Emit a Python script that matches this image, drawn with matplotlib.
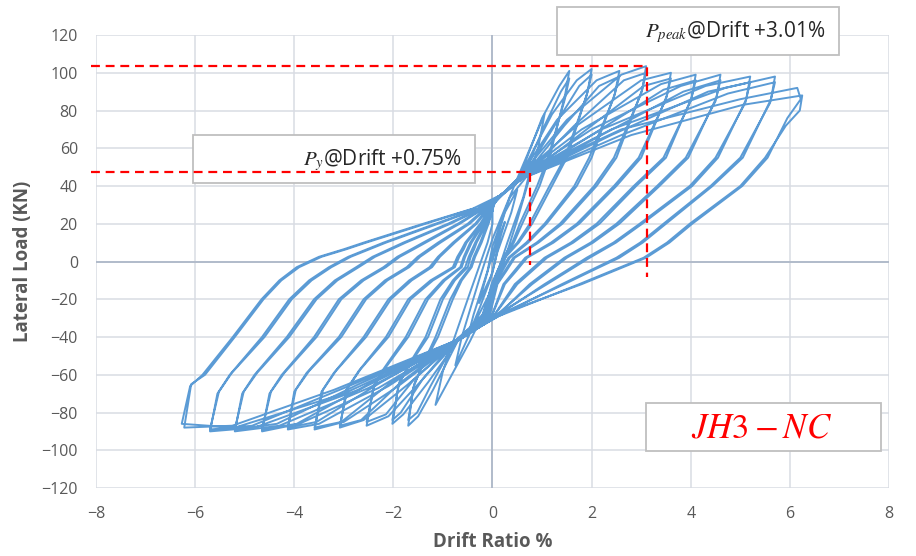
import numpy as np
import matplotlib.pyplot as plt
from matplotlib.patches import Rectangle

plt.rcParams['font.family'] = ['Open Sans', 'DejaVu Sans']
plt.rcParams['mathtext.fontset'] = 'stix'

# hysteresis record, one list per cycle (drift %, lateral load kN)
drift_loops = [
    [0.0, 0.12, 0.25, 0.15, 0.0, -0.14, -0.27, -0.17, 0.0],
    [0.0, 0.25, 0.5, 0.38, 0.1, -0.05, -0.25, -0.5, -0.38, -0.1, 0.0],
    [0.0, 0.35, 0.75, 0.62, 0.3, 0.0, -0.35, -0.75, -0.62, -0.25, 0.0],
    [0.0, 0.5, 1.05, 0.92, 0.5, 0.05, -0.45, -1.15, -1.0, -0.5, -0.1, 0.0],
    [0.0, 0.55, 1.0, 1.35, 1.55, 1.47, 1.15, 0.95, 0.6, 0.43, 0.25, 0.12, 0.0, -0.2, -0.7, -1.2, -1.5, -1.7, -1.6, -1.45, -1.15, -0.85, -0.65, -0.45, -0.38, -0.31, -0.25, -0.1, 0.0],
    [0.05, 0.6, 1.05, 1.38, 1.55, 1.46, 1.12, 0.9, 0.55, 0.4, 0.22, 0.1, 0.0, -0.2, -0.75, -1.25, -1.52, -1.7, -1.58, -1.42, -1.1, -0.8, -0.62, -0.42, -0.35, -0.28, -0.22, -0.08, 0.0],
    [0.0, 0.55, 1.2, 1.7, 2.0, 1.92, 1.5, 1.2, 0.8, 0.53, 0.25, 0.12, 0.0, -0.15, -0.7, -1.3, -1.8, -2.02, -1.9, -1.72, -1.35, -1.05, -0.8, -0.55, -0.48, -0.41, -0.35, -0.15, -0.02],
    [0.08, 0.6, 1.3, 1.75, 2.0, 1.9, 1.46, 1.15, 0.75, 0.5, 0.22, 0.1, -0.02, -0.18, -0.75, -1.4, -1.85, -2.02, -1.88, -1.68, -1.3, -1.0, -0.76, -0.5, -0.44, -0.37, -0.32, -0.12, 0.0],
    [0.0, 0.55, 1.3, 2.1, 2.56, 2.47, 2.0, 1.7, 1.09, 0.72, 0.35, 0.2, 0.05, -0.1, -0.7, -1.5, -2.1, -2.54, -2.4, -2.2, -1.75, -1.35, -1.0, -0.65, -0.58, -0.51, -0.45, -0.2, -0.05],
    [0.1, 0.6, 1.45, 2.15, 2.56, 2.45, 1.95, 1.65, 1.05, 0.68, 0.32, 0.17, 0.02, -0.12, -0.75, -1.6, -2.15, -2.54, -2.38, -2.15, -1.7, -1.3, -0.96, -0.62, -0.55, -0.48, -0.42, -0.18, -0.03],
    [0.05, 0.55, 1.5, 2.6, 3.1, 3.02, 2.5, 2.1, 1.41, 0.93, 0.45, 0.28, 0.1, -0.05, -0.7, -1.7, -2.6, -3.08, -2.95, -2.7, -2.15, -1.7, -1.25, -0.8, -0.71, -0.62, -0.55, -0.25, -0.08],
    [0.12, 0.6, 1.65, 2.65, 3.1, 3.0, 2.45, 2.05, 1.36, 0.89, 0.42, 0.25, 0.08, -0.08, -0.75, -1.85, -2.65, -3.08, -2.92, -2.66, -2.1, -1.65, -1.2, -0.76, -0.67, -0.58, -0.52, -0.22, -0.06],
    [0.1, 0.55, 1.7, 3.0, 3.6, 3.52, 3.0, 2.5, 1.75, 1.23, 0.7, 0.48, 0.25, 0.0, -0.7, -1.9, -3.0, -3.59, -3.45, -3.2, -2.6, -2.1, -1.68, -1.27, -1.1, -0.94, -0.8, -0.35, -0.1],
    [0.15, 0.6, 1.85, 3.05, 3.6, 3.5, 2.95, 2.45, 1.7, 1.18, 0.66, 0.44, 0.22, -0.02, -0.75, -2.05, -3.05, -3.59, -3.42, -3.16, -2.55, -2.05, -1.63, -1.22, -1.06, -0.9, -0.76, -0.32, -0.08],
    [0.1, 0.55, 1.8, 3.4, 4.1, 4.02, 3.5, 2.9, 2.16, 1.63, 1.1, 0.8, 0.5, 0.05, -0.7, -2.1, -3.5, -4.13, -4.0, -3.75, -3.1, -2.6, -2.17, -1.73, -1.51, -1.29, -1.1, -0.5, -0.15],
    [0.15, 0.6, 2.0, 3.45, 4.1, 4.0, 3.45, 2.85, 2.1, 1.58, 1.05, 0.75, 0.45, 0.02, -0.75, -2.25, -3.55, -4.13, -3.97, -3.7, -3.05, -2.55, -2.12, -1.68, -1.46, -1.24, -1.05, -0.46, -0.12],
    [0.1, 0.55, 2.0, 3.8, 4.6, 4.52, 3.95, 3.37, 2.56, 2.03, 1.5, 1.15, 0.8, 0.1, -0.7, -2.3, -3.9, -4.65, -4.5, -4.25, -3.6, -3.1, -2.65, -2.2, -1.92, -1.64, -1.4, -0.7, -0.2],
    [0.15, 0.6, 2.2, 3.85, 4.6, 4.5, 3.9, 3.32, 2.5, 1.98, 1.45, 1.1, 0.75, 0.08, -0.75, -2.5, -3.95, -4.65, -4.47, -4.2, -3.55, -3.05, -2.6, -2.15, -1.87, -1.59, -1.35, -0.66, -0.18],
    [0.1, 0.55, 2.2, 4.3, 5.2, 5.12, 4.55, 4.03, 3.02, 2.49, 1.96, 1.53, 1.1, 0.1, -0.7, -2.5, -4.3, -5.2, -5.05, -4.8, -4.15, -3.6, -3.18, -2.75, -2.42, -2.09, -1.8, -0.9, -0.25],
    [0.15, 0.6, 2.4, 4.35, 5.2, 5.1, 4.5, 3.98, 2.97, 2.44, 1.9, 1.48, 1.05, 0.08, -0.75, -2.7, -4.35, -5.2, -5.02, -4.75, -4.1, -3.55, -3.13, -2.7, -2.37, -2.04, -1.75, -0.85, -0.22],
    [0.1, 0.55, 2.4, 4.7, 5.7, 5.62, 5.05, 4.44, 3.5, 3.03, 2.56, 2.0, 1.45, 0.15, -0.7, -2.7, -4.8, -5.7, -5.55, -5.3, -4.65, -4.1, -3.7, -3.3, -2.91, -2.53, -2.2, -1.15, -0.3],
    [0.15, 0.6, 2.6, 4.75, 5.7, 5.6, 5.0, 4.4, 3.45, 2.98, 2.5, 1.95, 1.4, 0.12, -0.75, -2.9, -4.85, -5.7, -5.52, -5.26, -4.6, -4.05, -3.65, -3.25, -2.86, -2.48, -2.15, -1.1, -0.28],
    [0.1, 0.55, 2.6, 5.0, 6.15, 6.22, 5.95, 5.55, 5.04, 4.03, 3.57, 3.1, 2.45, 1.8, 0.15, -0.7, -3.0, -5.2, -6.27, -6.1, -5.85, -5.24, -4.66, -4.3, -3.95, -3.5, -3.0, -2.6, -1.4, -0.4],
    [0.15, 0.6, 2.8, 5.05, 6.25, 6.2, 5.92, 5.5, 5.0, 3.98, 3.52, 3.05, 2.4, 1.75, 0.12, -0.75, -3.2, -5.25, -6.22, -6.08, -5.8, -5.2, -4.62, -4.26, -3.9, -3.45, -2.95, -2.55, -1.35, -0.38],
]
load_loops = [
    [0, 12, 21, 12, -6, -14, -22, -12, 4],
    [4, 26, 38, 26, 5, -10, -24, -40, -28, -5, 8],
    [8, 34, 47, 34, 10, -14, -32, -55, -40, -8, 12],
    [12, 44, 78, 60, 22, -15, -42, -76, -58, -20, 10, 20],
    [30, 45, 76, 93, 101, 89, 55, 40, 20, 10, 2, -5, -12, -28, -42, -68, -82, -87, -67, -57, -40, -20, -10, -3, 2.5, 6.5, 10, 20, 27],
    [32, 44, 72, 90, 97, 86, 55, 40, 20, 10, 2, -5, -12, -29, -42, -66, -80, -84, -65, -56, -40, -20, -10, -3, 2.5, 6.5, 10, 20, 27],
    [30, 45, 78, 96, 102, 90, 55, 40, 20, 10, 2, -5, -12, -28, -42, -64, -81, -86, -66, -56, -40, -20, -10, -3, 2.5, 6.5, 10, 20, 27],
    [33, 44, 74, 93, 99, 88, 55, 40, 20, 10, 2, -5, -12, -29, -42, -62, -80, -84, -64, -55, -40, -20, -10, -3, 2.5, 6.5, 10, 20, 27],
    [30, 45, 75, 96, 101, 89, 55, 40, 20, 10, 2, -5, -12, -28, -42, -65, -82, -87, -67, -57, -40, -20, -10, -3, 2.5, 6.5, 10, 20, 27],
    [34, 44, 72, 93, 98, 87, 55, 40, 20, 10, 2, -5, -12, -29, -42, -63, -81, -85, -65, -56, -40, -20, -10, -3, 2.5, 6.5, 10, 20, 27],
    [32, 45, 75, 99, 103.5, 91, 55, 40, 20, 10, 2, -5, -12, -28, -42, -65, -84, -88, -68, -58, -40, -20, -10, -3, 2.5, 6.5, 10, 20, 27],
    [34, 44, 72, 96, 100, 89, 55, 40, 20, 10, 2, -5, -12, -29, -42, -64, -84, -87, -67, -57, -40, -20, -10, -3, 2.5, 6.5, 10, 20, 27],
    [33, 45, 72, 96, 100, 88, 55, 40, 20, 10, 2, -5, -12, -28, -42, -66, -85, -89, -69, -59, -40, -20, -10, -3, 2.5, 6.5, 10, 20, 28],
    [35, 44, 69, 93, 97, 86, 55, 40, 20, 10, 2, -5, -12, -29, -42, -64, -85, -88, -68, -58, -40, -20, -10, -3, 2.5, 6.5, 10, 20, 28],
    [33, 45, 70, 94, 99, 87, 55, 40, 20, 10, 2, -5, -12, -28, -42, -66, -86, -89, -69, -59, -40, -20, -10, -3, 2.5, 6.5, 10, 20, 28],
    [35, 44, 67, 91, 96, 85, 55, 40, 20, 10, 2, -5, -12, -29, -42, -64, -85, -88, -68, -58, -40, -20, -10, -3, 2.5, 6.5, 10, 20, 28],
    [33, 45, 70, 93, 99, 87, 55, 40, 20, 10, 2, -5, -12, -28, -42, -67, -86, -90, -70, -60, -40, -20, -10, -3, 2.5, 6.5, 10, 20, 28],
    [35, 44, 67, 90, 96, 85, 55, 40, 20, 10, 2, -5, -12, -29, -42, -65, -86, -89, -69, -59, -40, -20, -10, -3, 2.5, 6.5, 10, 20, 28],
    [33, 45, 70, 93, 98, 86, 55, 40, 20, 10, 2, -5, -12, -28, -42, -67, -87, -90, -70, -60, -40, -20, -10, -3, 2.5, 6.5, 10, 20, 28],
    [35, 44, 67, 90, 95, 84, 55, 40, 20, 10, 2, -5, -12, -29, -42, -65, -86, -89, -69, -59, -40, -20, -10, -3, 2.5, 6.5, 10, 20, 28],
    [33, 45, 70, 92, 98, 86, 55, 40, 20, 10, 2, -5, -12, -28, -42, -68, -88, -90, -70, -60, -40, -20, -10, -3, 2.5, 6.5, 10, 20, 28],
    [35, 44, 67, 89, 95, 84, 55, 40, 20, 10, 2, -5, -12, -29, -42, -66, -87, -89, -69, -59, -40, -20, -10, -3, 2.5, 6.5, 10, 20, 28],
    [33, 45, 70, 86, 92, 86, 76, 55, 40, 20, 10, 2, -5, -12, -28, -42, -70, -88, -86, -66, -60, -40, -20, -10, -3, 2.5, 6.5, 10, 20, 28],
    [35, 44, 67, 83, 88, 80, 72, 55, 40, 20, 10, 2, -5, -12, -29, -42, -68, -87, -88, -65, -60, -40, -20, -10, -3, 2.5, 6.5, 10, 20, 28],
]

# yield and peak markers
yield_drift, yield_load = 0.75, 47.2
peak_drift, peak_load = 3.12, 103.5
xticks = [-8, -6, -4, -2, 0, 2, 4, 6, 8]
yticks = [-120, -100, -80, -60, -40, -20, 0, 20, 40, 60, 80, 100, 120]

fig = plt.figure(figsize=(9.16, 5.56), dpi=100)
ax = fig.add_axes([0.1048, 0.1223, 0.8657, 0.8147])

drift = np.concatenate([np.array(d, dtype=float) for d in drift_loops])
load = np.concatenate([np.array(p, dtype=float) for p in load_loops])
ax.plot(drift, load, color='#5b9bd5', lw=1.4, zorder=3, solid_joinstyle='round')

ax.set_xlim(-8, 8)
ax.set_ylim(-120, 120)
ax.set_xticks(xticks)
ax.set_yticks(yticks)
ax.grid(True, color='#d9dce3', lw=1.1, zorder=0)
ax.set_axisbelow(True)
ax.axhline(0, color='#aeb8c8', lw=1.3, zorder=1)
ax.axvline(0, color='#aeb8c8', lw=1.3, zorder=1)
for s in ax.spines.values():
    s.set_visible(False)
ax.tick_params(length=0, pad=13, labelsize=11.5, labelcolor='#595959')
ax.set_xlabel('Drift Ratio %', fontsize=13.5, fontweight='bold', color='#595959')
ax.set_ylabel('Lateral Load (KN)', fontsize=13.5, fontweight='bold', color='#595959')
ax.xaxis.set_label_coords(0.5, -0.097)
ax.yaxis.set_label_coords(-0.079, 0.5)

# red dashed guide lines
dash = dict(color='red', lw=1.6, ls=(0, (4, 2.6)), zorder=6, clip_on=False)
ax.plot([-8.1, peak_drift, peak_drift], [peak_load, peak_load, -8], **dash)
ax.plot([-8.1, yield_drift, yield_drift], [yield_load, yield_load, -2], **dash)


# annotation boxes, placed in figure pixels
def box(x0, y0, x1, y1, z):
    r = Rectangle((x0 / 916, 1 - y1 / 556), (x1 - x0) / 916, (y1 - y0) / 556,
                  transform=fig.transFigure, facecolor='white', edgecolor='#bfbfbf',
                  lw=1.3, zorder=z, clip_on=False)
    ax.add_patch(r)


box(193, 135, 475, 183, 5)
box(557, 7, 839, 55, 5)
box(646, 403, 881, 451, 5)

fig.text(462 / 916, 1 - 160 / 556, r'$P_y$@Drift +0.75%', ha='right', va='center',
         fontsize=15, color='#262626', zorder=7)
fig.text(825 / 916, 1 - 32 / 556, r'$P_{peak}$@Drift +3.01%', ha='right', va='center',
         fontsize=15, color='#262626', zorder=7)
fig.text(762 / 916, 1 - 428 / 556, r'$JH3-NC$', ha='center', va='center',
         fontsize=25, color='red', zorder=7)

fig.savefig('out.png', dpi=100)
